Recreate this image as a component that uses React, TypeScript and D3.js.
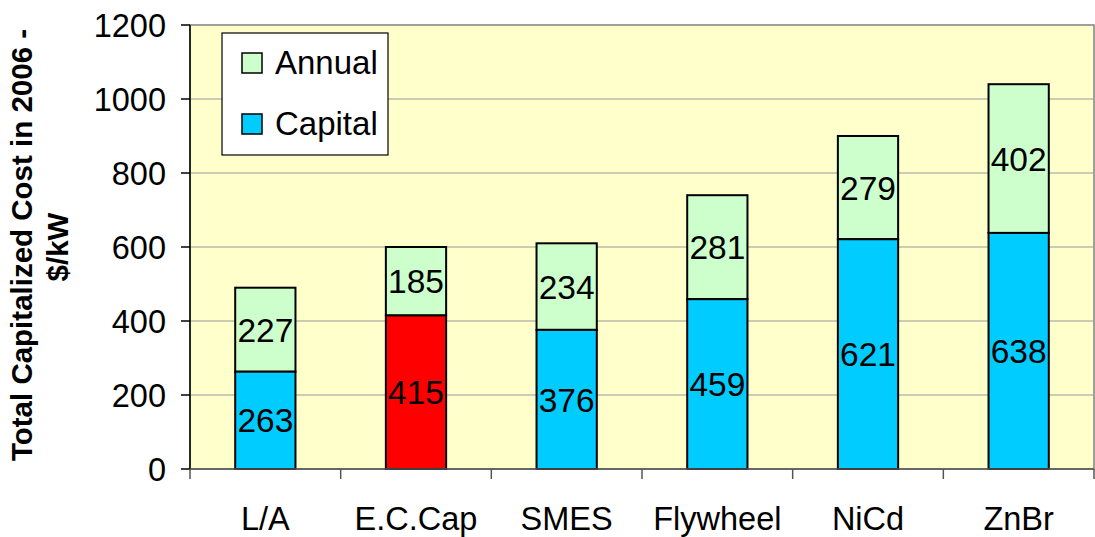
import * as d3 from "d3";

const categories = ["L/A", "E.C.Cap", "SMES", "Flywheel", "NiCd", "ZnBr"];
const capital = [263, 415, 376, 459, 621, 638];
const annual = [227, 185, 234, 281, 279, 402];
const yTicks = [0, 200, 400, 600, 800, 1000, 1200];

const W = 1095;
const H = 537;
const plot = { left: 190, right: 1094, top: 25, bottom: 469 };
const FONT = "'Liberation Sans', Arial, Helvetica, sans-serif";

const CAPITAL = "#00CCFF";
const ANNUAL = "#CCFFCC";
const HIGHLIGHT = "#FF0000";

export default function App() {
  const x = d3
    .scaleBand<string>()
    .domain(categories)
    .range([plot.left, plot.right])
    .paddingInner(0.6)
    .paddingOuter(0.3);
  const y = d3.scaleLinear().domain([0, 1200]).range([plot.bottom, plot.top]);
  const step = x.step();
  const bw = x.bandwidth();
  const midY = (plot.top + plot.bottom) / 2;

  return (
    <div style={{ position: "absolute", left: 0, top: 0 }}>
      <svg width={W} height={H} style={{ display: "block", fontFamily: FONT }}>
        <rect x={0} y={0} width={W} height={H} fill="#fff" />
        <rect
          x={plot.left}
          y={plot.top}
          width={plot.right - plot.left}
          height={plot.bottom - plot.top}
          fill="#FFFFCC"
          stroke="#808080"
          strokeWidth={1.5}
        />
        {yTicks.slice(1, -1).map((t) => (
          <line key={t} x1={plot.left} x2={plot.right} y1={y(t)} y2={y(t)} stroke="#999" strokeWidth={1.2} />
        ))}

        {categories.map((c, i) => {
          const x0 = x(c)!;
          const y0 = y(0);
          const y1 = y(capital[i]);
          const y2 = y(capital[i] + annual[i]);
          const cx = x0 + bw / 2;
          return (
            <g key={c}>
              <rect x={x0} y={y2} width={bw} height={y1 - y2} fill={ANNUAL} stroke="#000" strokeWidth={2} />
              <rect x={x0} y={y1} width={bw} height={y0 - y1} fill={i === 1 ? HIGHLIGHT : CAPITAL} stroke="#000" strokeWidth={2} />
              <text x={cx} y={(y0 + y1) / 2} dy="0.36em" textAnchor="middle" fontSize={33.5}>
                {capital[i]}
              </text>
              <text x={cx} y={(y1 + y2) / 2} dy="0.36em" textAnchor="middle" fontSize={33.5}>
                {annual[i]}
              </text>
            </g>
          );
        })}

        {/* axes */}
        <line x1={plot.left} x2={plot.left} y1={plot.top} y2={plot.bottom} stroke="#000" strokeWidth={1.5} />
        <line x1={plot.left} x2={plot.right} y1={plot.bottom} y2={plot.bottom} stroke="#555" strokeWidth={1.5} />
        {yTicks.map((t) => (
          <g key={t}>
            <line x1={plot.left - 9} x2={plot.left} y1={y(t)} y2={y(t)} stroke="#000" strokeWidth={1.5} />
            <text x={166} y={y(t)} dy="0.36em" textAnchor="end" fontSize={32.5}>
              {t}
            </text>
          </g>
        ))}
        {d3.range(categories.length + 1).map((i) => {
          const tx = plot.left + i * step;
          return <line key={i} x1={tx} x2={tx} y1={plot.bottom} y2={plot.bottom + 10} stroke="#555" strokeWidth={1.5} />;
        })}
        {categories.map((c) => (
          <text key={c} x={x(c)! + bw / 2} y={530} textAnchor="middle" fontSize={32.5}>
            {c}
          </text>
        ))}

        {/* y title */}
        <g fontWeight="bold" fontSize={29.5} textAnchor="middle">
          <text transform={`translate(32,${midY - 2}) rotate(-90)`}>Total Capitalized Cost in 2006 -</text>
          <text transform={`translate(68,${midY}) rotate(-90)`}>$/kW</text>
        </g>

        {/* legend */}
        <g>
          <rect x={222} y={33} width={166} height={122} fill="#fff" stroke="#000" strokeWidth={1.2} />
          <rect x={242} y={53} width={20} height={20} fill={ANNUAL} stroke="#000" strokeWidth={1.5} />
          <text x={275} y={74} fontSize={33}>Annual</text>
          <rect x={242} y={114} width={20} height={20} fill={CAPITAL} stroke="#000" strokeWidth={1.5} />
          <text x={275} y={135} fontSize={33}>Capital</text>
        </g>
      </svg>
    </div>
  );
}
